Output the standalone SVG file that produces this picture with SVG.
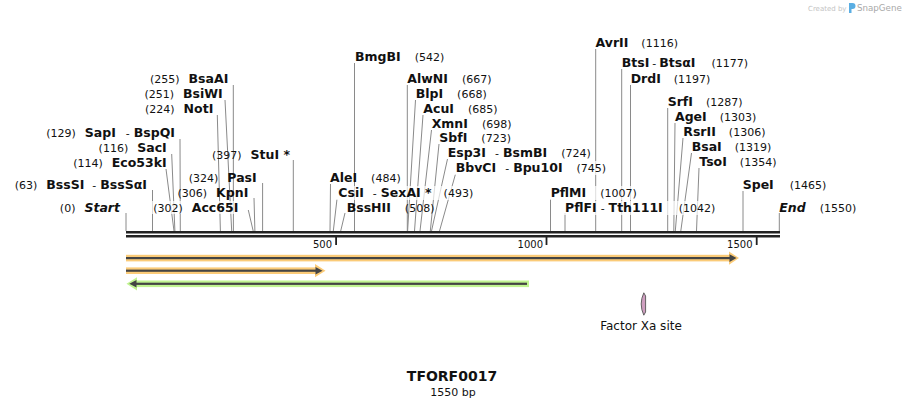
<svg xmlns="http://www.w3.org/2000/svg" width="906" height="407" viewBox="0 0 906 407">
<style>
text{font-family:"DejaVu Sans","Liberation Sans",sans-serif;fill:#111}
.n{font-weight:bold;font-size:12.5px}
.p{font-size:11px;font-weight:normal}
.it{font-style:italic}
.cl{stroke:#8a8a8a;stroke-width:1;fill:none}
.bg{fill:#fff;fill-opacity:0.7}
.tk{font-size:10px}
.bb{fill:#222}
.oh{fill:#fbcb78}
.gh{fill:#c1f491}
.dk{fill:#444}
</style>
<rect width="906" height="407" fill="#fff"/>
<g id="connectors">
<line class="cl" x1="126" y1="213" x2="126" y2="231"/>
<line class="cl" x1="152.5" y1="190" x2="152.5" y2="231"/>
<line class="cl" x1="166" y1="169" x2="174" y2="231"/>
<line class="cl" x1="171.7" y1="154" x2="174.9" y2="231"/>
<line class="cl" x1="180" y1="139" x2="180.3" y2="231"/>
<line class="cl" x1="217.3" y1="115" x2="220.4" y2="231"/>
<line class="cl" x1="225" y1="100" x2="231.7" y2="231"/>
<line class="cl" x1="233.3" y1="85" x2="233.4" y2="231"/>
<line class="cl" x1="248.3" y1="210" x2="253.2" y2="231"/>
<line class="cl" x1="254" y1="198" x2="254.9" y2="231"/>
<line class="cl" x1="262.6" y1="183" x2="262.6" y2="231"/>
<line class="cl" x1="293.3" y1="160" x2="293.3" y2="231"/>
<line class="cl" x1="330.5" y1="184" x2="330" y2="231"/>
<line class="cl" x1="337" y1="199" x2="333.3" y2="231"/>
<line class="cl" x1="345" y1="213" x2="340.7" y2="231"/>
<line class="cl" x1="354.5" y1="63" x2="354.5" y2="231"/>
<line class="cl" x1="407.3" y1="85" x2="407.3" y2="231"/>
<line class="cl" x1="415.5" y1="100" x2="407.6" y2="231"/>
<line class="cl" x1="423" y1="115" x2="414.5" y2="231"/>
<line class="cl" x1="431.5" y1="130" x2="420" y2="231"/>
<line class="cl" x1="439" y1="144" x2="430.3" y2="231"/>
<line class="cl" x1="447.5" y1="159" x2="431.5" y2="231"/>
<line class="cl" x1="455.5" y1="174" x2="439.5" y2="231"/>
<line class="cl" x1="550.5" y1="199" x2="550.5" y2="231"/>
<line class="cl" x1="565" y1="213" x2="565" y2="231"/>
<line class="cl" x1="595.7" y1="49" x2="595.7" y2="231"/>
<line class="cl" x1="621.7" y1="69" x2="621.7" y2="231"/>
<line class="cl" x1="630.5" y1="85" x2="630.5" y2="231"/>
<line class="cl" x1="667.7" y1="108" x2="667.7" y2="231"/>
<line class="cl" x1="675" y1="123" x2="673.8" y2="231"/>
<line class="cl" x1="683" y1="138" x2="675.3" y2="231"/>
<line class="cl" x1="691.5" y1="153" x2="680.8" y2="231"/>
<line class="cl" x1="699" y1="168" x2="696.5" y2="231"/>
<line class="cl" x1="743" y1="191" x2="743" y2="231"/>
<line class="cl" x1="779.3" y1="213" x2="779.3" y2="231"/>
</g>
<g id="label-backgrounds">
<rect class="bg" x="151" y="201" width="90" height="13"/>
<rect class="bg" x="336" y="186" width="142" height="14"/>
<rect class="bg" x="454" y="161" width="156" height="14"/>
<rect class="bg" x="549" y="186" width="88" height="14"/>
<rect class="bg" x="563" y="201" width="160" height="14"/>
</g>
<g id="backbone">
<rect class="bb" x="126" y="231" width="654" height="2.5"/>
<rect class="bb" x="126" y="235" width="654" height="2.5"/>
<rect class="bb" x="335.2" y="237" width="1.8" height="8"/>
<rect class="bb" x="545.6" y="237" width="1.8" height="8"/>
<rect class="bb" x="755.8" y="237" width="1.8" height="8"/>
<text class="tk" x="332" y="248" text-anchor="end">500</text>
<text class="tk" x="543" y="248" text-anchor="end">1000</text>
<text class="tk" x="752.5" y="248" text-anchor="end">1500</text>
</g>
<g id="site-start"><text x="120" y="212" text-anchor="end"><tspan class="p">(0)</tspan><tspan class="n it" dx="9">Start</tspan></text></g>
<g id="site-BssSI"><text x="147" y="189" text-anchor="end"><tspan class="p">(63)</tspan><tspan class="n" dx="9">BssSI</tspan><tspan class="p" dx="8">-</tspan><tspan class="n" dx="4">BssSαI</tspan></text></g>
<g id="site-Eco53kI"><text x="166.7" y="167" text-anchor="end"><tspan class="p">(114)</tspan><tspan class="n" dx="9">Eco53kI</tspan></text></g>
<g id="site-SacI"><text x="166.7" y="152" text-anchor="end"><tspan class="p">(116)</tspan><tspan class="n" dx="9">SacI</tspan></text></g>
<g id="site-SapI"><text x="175" y="137" text-anchor="end"><tspan class="p">(129)</tspan><tspan class="n" dx="9">SapI</tspan><tspan class="p" dx="10">-</tspan><tspan class="n" dx="4">BspQI</tspan></text></g>
<g id="site-NotI"><text x="213.3" y="113" text-anchor="end"><tspan class="p">(224)</tspan><tspan class="n" dx="9">NotI</tspan></text></g>
<g id="site-BsiWI"><text x="222.7" y="98" text-anchor="end"><tspan class="p">(251)</tspan><tspan class="n" dx="9">BsiWI</tspan></text></g>
<g id="site-BsaAI"><text x="228.3" y="83" text-anchor="end"><tspan class="p">(255)</tspan><tspan class="n" dx="9">BsaAI</tspan></text></g>
<g id="site-Acc65I"><text x="238.3" y="212" text-anchor="end"><tspan class="p">(302)</tspan><tspan class="n" dx="9">Acc65I</tspan></text></g>
<g id="site-KpnI"><text x="248.3" y="197" text-anchor="end"><tspan class="p">(306)</tspan><tspan class="n" dx="9">KpnI</tspan></text></g>
<g id="site-PasI"><text x="256.7" y="182" text-anchor="end"><tspan class="p">(324)</tspan><tspan class="n" dx="9">PasI</tspan></text></g>
<g id="site-StuI"><text x="290" y="159" text-anchor="end"><tspan class="p">(397)</tspan><tspan class="n" dx="9">StuI *</tspan></text></g>
<g id="site-AleI"><text x="330" y="182"><tspan class="n">AleI</tspan><tspan class="p" dx="14">(484)</tspan></text></g>
<g id="site-CsiI"><text x="338.3" y="197"><tspan class="n">CsiI</tspan><tspan class="p" dx="9">-</tspan><tspan class="n" dx="4">SexAI *</tspan><tspan class="p" dx="12">(493)</tspan></text></g>
<g id="site-BssHII"><text x="346.7" y="212"><tspan class="n">BssHII</tspan><tspan class="p" dx="14">(508)</tspan></text></g>
<g id="site-BmgBI"><text x="355" y="61"><tspan class="n">BmgBI</tspan><tspan class="p" dx="14">(542)</tspan></text></g>
<g id="site-AlwNI"><text x="407.3" y="83"><tspan class="n">AlwNI</tspan><tspan class="p" dx="14">(667)</tspan></text></g>
<g id="site-BlpI"><text x="415.7" y="98"><tspan class="n">BlpI</tspan><tspan class="p" dx="14">(668)</tspan></text></g>
<g id="site-AcuI"><text x="423.3" y="113"><tspan class="n">AcuI</tspan><tspan class="p" dx="14">(685)</tspan></text></g>
<g id="site-XmnI"><text x="431.7" y="128"><tspan class="n">XmnI</tspan><tspan class="p" dx="14">(698)</tspan></text></g>
<g id="site-SbfI"><text x="439.3" y="142"><tspan class="n">SbfI</tspan><tspan class="p" dx="14">(723)</tspan></text></g>
<g id="site-Esp3I"><text x="447.7" y="157"><tspan class="n">Esp3I</tspan><tspan class="p" dx="9">-</tspan><tspan class="n" dx="4">BsmBI</tspan><tspan class="p" dx="14">(724)</tspan></text></g>
<g id="site-BbvCI"><text x="455.7" y="172"><tspan class="n">BbvCI</tspan><tspan class="p" dx="9">-</tspan><tspan class="n" dx="4">Bpu10I</tspan><tspan class="p" dx="14">(745)</tspan></text></g>
<g id="site-PflMI"><text x="550.7" y="197"><tspan class="n">PflMI</tspan><tspan class="p" dx="14">(1007)</tspan></text></g>
<g id="site-PflFI"><text x="565" y="212"><tspan class="n">PflFI</tspan><tspan class="p" dx="4">-</tspan><tspan class="n" dx="4">Tth111I</tspan><tspan class="p" dx="16">(1042)</tspan></text></g>
<g id="site-AvrII"><text x="595.5" y="47"><tspan class="n">AvrII</tspan><tspan class="p" dx="13">(1116)</tspan></text></g>
<g id="site-BtsI"><text x="621.7" y="67"><tspan class="n">BtsI</tspan><tspan class="p" dx="3">-</tspan><tspan class="n" dx="3">BtsαI</tspan><tspan class="p" dx="16">(1177)</tspan></text></g>
<g id="site-DrdI"><text x="630.7" y="83"><tspan class="n">DrdI</tspan><tspan class="p" dx="13">(1197)</tspan></text></g>
<g id="site-SrfI"><text x="667.7" y="106"><tspan class="n">SrfI</tspan><tspan class="p" dx="13">(1287)</tspan></text></g>
<g id="site-AgeI"><text x="675" y="121"><tspan class="n">AgeI</tspan><tspan class="p" dx="13">(1303)</tspan></text></g>
<g id="site-RsrII"><text x="683.3" y="136"><tspan class="n">RsrII</tspan><tspan class="p" dx="13">(1306)</tspan></text></g>
<g id="site-BsaI"><text x="691.7" y="151"><tspan class="n">BsaI</tspan><tspan class="p" dx="13">(1319)</tspan></text></g>
<g id="site-TsoI"><text x="699.3" y="166"><tspan class="n">TsoI</tspan><tspan class="p" dx="13">(1354)</tspan></text></g>
<g id="site-SpeI"><text x="742.7" y="189"><tspan class="n">SpeI</tspan><tspan class="p" dx="16">(1465)</tspan></text></g>
<g id="site-end"><text x="779.3" y="212"><tspan class="n it">End</tspan><tspan class="p" dx="14">(1550)</tspan></text></g>
<g id="feature-1">
<rect class="oh" x="126" y="254.8" width="604" height="6.6"/>
<polygon class="oh" points="729,251.5 739,258.1 729,264.7"/>
<rect class="dk" x="126" y="257" width="605" height="2.2"/>
<polygon class="dk" points="729.5,254.3 736.5,258.1 729.5,261.9"/>
</g>
<g id="feature-2">
<rect class="oh" x="126" y="267.4" width="191" height="6.6"/>
<polygon class="oh" points="315,264.1 325.5,270.7 315,277.3"/>
<rect class="dk" x="126" y="269.6" width="191" height="2.2"/>
<polygon class="dk" points="315.5,266.9 322.5,270.7 315.5,274.5"/>
</g>
<g id="feature-3">
<rect class="gh" x="135" y="280.5" width="394" height="6.6"/>
<polygon class="gh" points="137,277.2 126.5,283.8 137,290.4"/>
<rect class="dk" x="135" y="282.7" width="392" height="2.2"/>
<polygon class="dk" points="136.5,280 129.3,283.8 136.5,287.6"/>
</g>
<g id="feature-factorxa">
<path d="M643.8,292.8 L645.6,296 L645.6,312 L643.8,315.2 Q638.6,304 643.8,292.8 Z" fill="#cf9fc0" stroke="#555" stroke-width="0.9"/>
<text x="641" y="329.5" text-anchor="middle" style="font-size:12px">Factor Xa site</text>
</g>
<g id="title">
<text x="452" y="381" text-anchor="middle" style="font-size:14px;font-weight:bold">TFORF0017</text>
<text x="453" y="395.5" text-anchor="middle" style="font-size:11px">1550 bp</text>
</g>
<g id="logo">
<text x="808" y="10.5" style="font-size:7px;fill:#c4c4c4">Created by</text>
<path d="M849,3 h3.5 a3,3 0 0 1 0,6 h-1 v4 h-2.5 z" fill="#5aaee3"/>
<text x="857" y="11" style="font-size:8.7px;fill:#a9a9a9">SnapGene</text>
</g>
</svg>
